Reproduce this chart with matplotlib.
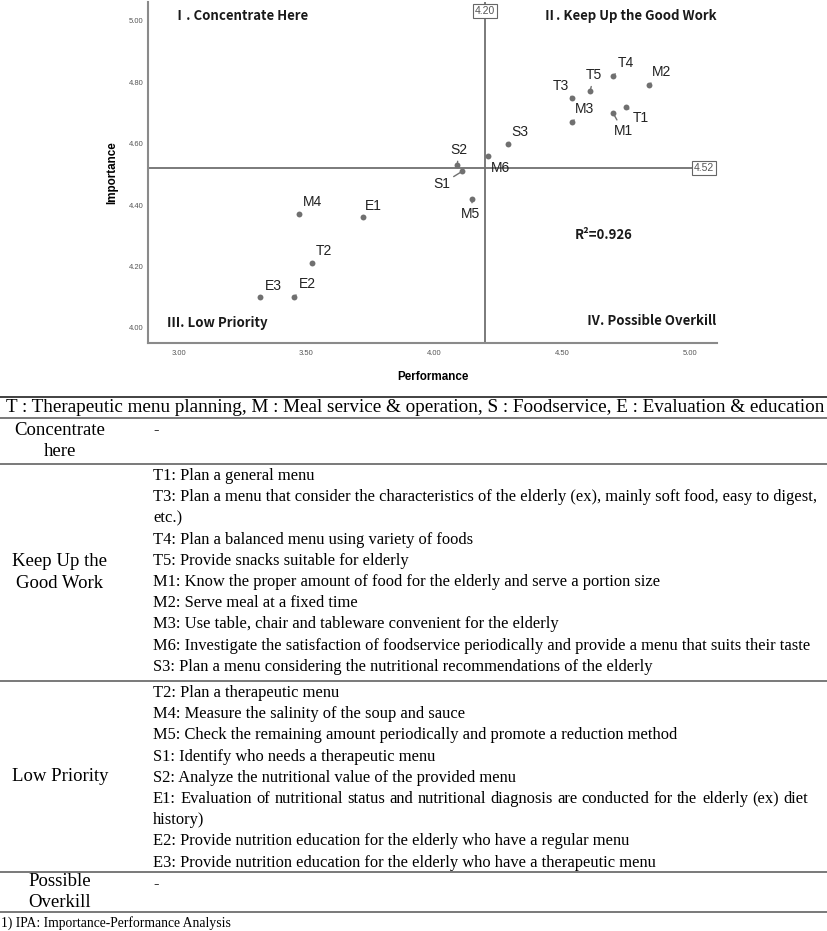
import matplotlib
matplotlib.use("Agg")
import matplotlib.pyplot as plt

W, H, DPI = 828, 931, 100

# IPA points (performance, importance)
codes = ["T1", "T2", "T3", "T4", "T5", "M1", "M2", "M3", "M4", "M5", "M6",
         "S1", "S2", "S3", "E1", "E2", "E3"]
performance = [4.75, 3.52, 4.54, 4.70, 4.61, 4.70, 4.84, 4.54, 3.47, 4.15, 4.21,
               4.11, 4.09, 4.29, 3.72, 3.45, 3.32]
importance = [4.72, 4.21, 4.75, 4.82, 4.77, 4.70, 4.79, 4.67, 4.37, 4.42, 4.56,
              4.51, 4.53, 4.60, 4.36, 4.10, 4.10]
perf_mean = 4.20
imp_mean = 4.52
r_squared = 0.926
x_ticks = [3.0, 3.5, 4.0, 4.5, 5.0]
y_ticks = [4.0, 4.2, 4.4, 4.6, 4.8, 5.0]

quadrants = ["Ⅰ. Concentrate Here", "Ⅱ. Keep Up the Good Work",
             "Ⅲ. Low Priority", "Ⅳ. Possible Overkill"]

# label offsets from point, in pixels (x right, y up)
LABEL_OFFSETS = {
    "T4": (13, 13), "M2": (13, 13), "T5": (4, 16), "T3": (-11, 12),
    "M3": (12, 13), "T1": (15, -11), "M1": (10, -18), "S3": (12, 12),
    "S2": (2, 15), "M6": (13, -12), "S1": (-21, -13), "M5": (-2, -15),
    "M4": (14, 12), "E1": (11, 11), "T2": (12, 12), "E2": (14, 13),
    "E3": (13, 11),
}

header = ("T : Therapeutic menu planning, M : Meal service & operation, "
          "S : Foodservice, E : Evaluation & education")
groups = [["Concentrate", "here"], ["Keep Up the", "Good Work"],
          ["Low Priority"], ["Possible", "Overkill"]]
group_items = [
    ["-"],
    ["T1: Plan a general menu",
     "T3: Plan a menu that consider the characteristics of the elderly (ex), mainly soft food, easy to digest,",
     "etc.)",
     "T4: Plan a balanced menu using variety of foods",
     "T5: Provide snacks suitable for elderly",
     "M1: Know the proper amount of food for the elderly and serve a portion size",
     "M2: Serve meal at a fixed time",
     "M3: Use table, chair and tableware convenient for the elderly",
     "M6: Investigate the satisfaction of foodservice periodically and provide a menu that suits their taste",
     "S3: Plan a menu considering the nutritional recommendations of the elderly"],
    ["T2: Plan a therapeutic menu",
     "M4: Measure the salinity of the soup and sauce",
     "M5: Check the remaining amount periodically and promote a reduction method",
     "S1: Identify who needs a therapeutic menu",
     "S2: Analyze the nutritional value of the provided menu",
     "E1: Evaluation of nutritional status and nutritional diagnosis are conducted for the elderly (ex) diet",
     "history)",
     "E2: Provide nutrition education for the elderly who have a regular menu",
     "E3: Provide nutrition education for the elderly who have a therapeutic menu"],
    ["-"],
]
# wrapped first line, justified to a right edge (px)
justify_lines = {
    "E1: Evaluation of nutritional status and nutritional diagnosis are conducted for the elderly (ex) diet": 808,
}
footnote = "1) IPA: Importance-Performance Analysis"

SANS = ["Liberation Sans", "DejaVu Sans"]
KR = ["Noto Sans CJK KR", "DejaVu Sans"]
SERIF = ["Liberation Serif", "DejaVu Serif"]
GREY = "#707070"


def fx(px):
    return px / W


def fy(py):
    return 1 - py / H


fig = plt.figure(figsize=(W / DPI, H / DPI), dpi=DPI)
ax = fig.add_axes([fx(148), fy(343), fx(717) - fx(148), fy(2) - fy(343)])
ax.set_xlim(2.88, 5.107)
ax.set_ylim(3.951, 5.061)

ax.axvline(perf_mean, color=GREY, lw=1.3, zorder=1)
ax.axhline(imp_mean, color=GREY, lw=1.3, zorder=1)
ax.scatter(performance, importance, s=18, color=GREY, linewidths=0, zorder=4)
for code, x, y in zip(codes, performance, importance):
    ax.annotate(code, (x, y), xytext=LABEL_OFFSETS[code], textcoords="offset pixels",
                ha="center", va="center", fontsize=10, family=SANS, color="#222222",
                arrowprops=dict(arrowstyle="-", color=GREY, lw=1, shrinkA=1, shrinkB=0),
                zorder=3)

box = dict(boxstyle="square,pad=0.2", fc="white", ec="#666666", lw=0.8)
ax.annotate(f"{perf_mean:.2f}", (perf_mean, 1.0), xycoords=("data", "axes fraction"),
            xytext=(0, -4), textcoords="offset pixels", ha="center", va="top",
            fontsize=7.5, family=SANS, color="#555555", bbox=box, zorder=5)
ax.annotate(f"{imp_mean:.2f}", (1.0, imp_mean), xycoords=("axes fraction", "data"),
            xytext=(-3, 0), textcoords="offset pixels", ha="right", va="center",
            fontsize=7.5, family=SANS, color="#555555", bbox=box, zorder=5)

qkw = dict(transform=ax.transAxes, fontsize=9.5, family=KR, fontweight="bold", color="#1a1a1a")
ax.text(0.044, 0.959, quadrants[0], ha="left", va="center", **qkw)
ax.text(1.0, 0.959, quadrants[1], ha="right", va="center", **qkw)
ax.text(0.033, 0.059, quadrants[2], ha="left", va="center", **qkw)
ax.text(0.998, 0.065, quadrants[3], ha="right", va="center", **qkw)
ax.text(0.801, 0.317, f"R²={r_squared}", ha="center", va="center", **qkw)

for side in ["top", "right"]:
    ax.spines[side].set_visible(False)
for side in ["left", "bottom"]:
    ax.spines[side].set_color("#8a8a8a")
    ax.spines[side].set_linewidth(1.5)
ax.set_xticks(x_ticks)
ax.set_yticks(y_ticks)
ax.set_xticklabels([f"{v:.2f}" for v in x_ticks])
ax.set_yticklabels([f"{v:.2f}" for v in y_ticks])
ax.tick_params(length=0, labelsize=5.5, labelcolor="#555555")
ax.tick_params(axis="x", pad=5)
ax.tick_params(axis="y", pad=3.5)
for lab in ax.get_xticklabels() + ax.get_yticklabels():
    lab.set_family(SANS)
ax.set_xlabel("Performance", fontsize=8.4, family=SANS, fontweight="bold", labelpad=10)
ax.set_ylabel("Importance", fontsize=8.4, family=SANS, fontweight="bold", labelpad=7)

# table below chart
row_edges = [418, 464, 681, 872, 912]
LINE = 21.2
ITEM_X = 153
renderer = fig.canvas.get_renderer()


def hline(py, color="#555555", lw=1.1):
    fig.add_artist(plt.Line2D([0, 1], [fy(py), fy(py)], color=color, lw=lw))


def justified(x0, x1, py, text, **kw):
    words = text.split()
    arts = [fig.text(0, fy(py), w, va="center", ha="left", **kw) for w in words]
    widths = [a.get_window_extent(renderer).width for a in arts]
    gap = (x1 - x0 - sum(widths)) / (len(words) - 1)
    x = x0
    for a, wd in zip(arts, widths):
        a.set_x(fx(x))
        x += wd + gap


hline(397, color="#333333", lw=1.3)
hline(418)
fig.text(fx(415), fy(407.5), header, ha="center", va="center", fontsize=13.8, family=SERIF)

for i, (label, items) in enumerate(zip(groups, group_items)):
    top, bottom = row_edges[i], row_edges[i + 1]
    mid = (top + bottom) / 2
    for j, part in enumerate(label):
        py = mid + (j - (len(label) - 1) / 2) * LINE
        fig.text(fx(60), fy(py), part, ha="center", va="center", fontsize=13.5, family=SERIF)
    for j, item in enumerate(items):
        py = top + 12 + j * LINE
        if item in justify_lines:
            justified(ITEM_X, justify_lines[item], py, item, fontsize=11.9, family=SERIF)
        else:
            fig.text(fx(ITEM_X), fy(py), item, ha="left", va="center", fontsize=11.9, family=SERIF)
    hline(bottom)

fig.text(fx(1), fy(923), footnote, ha="left", va="center", fontsize=9.8, family=SERIF)

fig.savefig("out.png", dpi=DPI)
